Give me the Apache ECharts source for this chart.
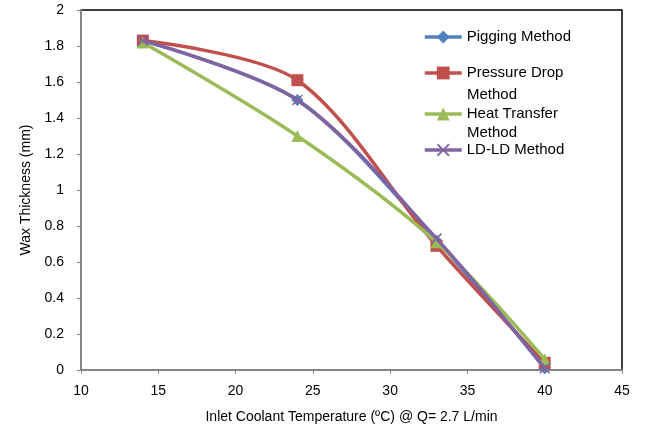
<!DOCTYPE html>
<html>
<head>
<meta charset="utf-8">
<script src="https://cdn.jsdelivr.net/npm/echarts@6/dist/echarts.min.js"></script>
<style>
  html, body { margin: 0; padding: 0; background: #fff; }
  #chart { width: 654px; height: 430px; }
</style>
</head>
<body>
<div id="chart"></div>
<script>
// inlet coolant temperature (ºC)
const temps = [14, 24, 33, 40];
const pigging = [1.83, 1.50, 0.72, 0.01];
const pressureDrop = [1.83, 1.61, 0.69, 0.04];
const heatTransfer = [1.82, 1.30, 0.71, 0.06];
const ldld = [1.83, 1.50, 0.73, 0.01];

const names = ['Pigging Method', 'Pressure Drop Method', 'Heat Transfer Method', 'LD-LD Method'];
const colors = ['#4F81BD', '#C0504D', '#9BBB59', '#8064A2'];
const crossPath = 'path://M0,1 L1,0 L5,4 L9,0 L10,1 L6,5 L10,9 L9,10 L5,6 L1,10 L0,9 L4,5 Z';
const symbols = ['diamond', 'rect', 'triangle', crossPath];
const symbolSizes = [12, 12, 12, 11];
const allValues = [pigging, pressureDrop, heatTransfer, ldld];

const font = 'Liberation Sans, Arial, sans-serif';

const pair = (xs, ys) => xs.map((x, i) => [x, ys[i]]);

// legend text shown on the first line, the rest drawn below
const legendFirst = ['Pigging Method', 'Pressure Drop', 'Heat Transfer', 'LD-LD Method'];
const legendTops = [28, 64, 105, 141];

const chart = echarts.init(document.getElementById('chart'));

const option = {
  animation: false,
  grid: {
    left: 81, right: 32, top: 10, bottom: 60,
    show: true, borderColor: '#000', borderWidth: 1.5
  },
  legend: names.map((n, i) => ({
    data: [n],
    left: 423,
    top: legendTops[i],
    padding: 0,
    itemWidth: 37,
    itemHeight: 16,
    selectedMode: false,
    lineStyle: { width: 3.5 },
    formatter: () => legendFirst[i],
    textStyle: { fontFamily: font, fontSize: 15, color: '#000', lineHeight: 18 }
  })),
  graphic: [
    { type: 'text', left: 467, top: 87, style: { text: 'Method', font: '15px ' + font, fill: '#000' } },
    { type: 'text', left: 467, top: 125, style: { text: 'Method', font: '15px ' + font, fill: '#000' } }
  ],
  xAxis: {
    type: 'value',
    min: 10, max: 45, interval: 5,
    name: 'Inlet Coolant Temperature (ºC) @ Q= 2.7 L/min',
    nameLocation: 'middle',
    nameGap: 40,
    nameTextStyle: { fontFamily: font, fontSize: 14, color: '#000' },
    axisLine: { lineStyle: { color: '#868686', width: 2 } },
    axisTick: { show: true, length: 4, lineStyle: { color: '#868686' } },
    axisLabel: { fontFamily: font, fontSize: 14, color: '#000', margin: 14 },
    splitLine: { show: false }
  },
  yAxis: {
    type: 'value',
    min: 0, max: 2, interval: 0.2,
    name: 'Wax Thickness (mm)',
    nameLocation: 'middle',
    nameGap: 42,
    nameTextStyle: { fontFamily: font, fontSize: 14, color: '#000' },
    axisLine: { show: true, lineStyle: { color: '#868686', width: 2 } },
    axisTick: { show: true, length: 4, lineStyle: { color: '#868686' } },
    axisLabel: { fontFamily: font, fontSize: 14, color: '#000', margin: 17 },
    splitLine: { show: false }
  },
  series: names.map((n, i) => ({
    name: n,
    type: 'line',
    smooth: 0.3,
    data: pair(temps, allValues[i]),
    symbol: symbols[i],
    symbolSize: symbolSizes[i],
    showAllSymbol: true,
    lineStyle: { color: colors[i], width: 3.5 },
    itemStyle: { color: colors[i], borderWidth: 0 },
    z: 2 + i
  }))
};

chart.setOption(option);
</script>
</body>
</html>
